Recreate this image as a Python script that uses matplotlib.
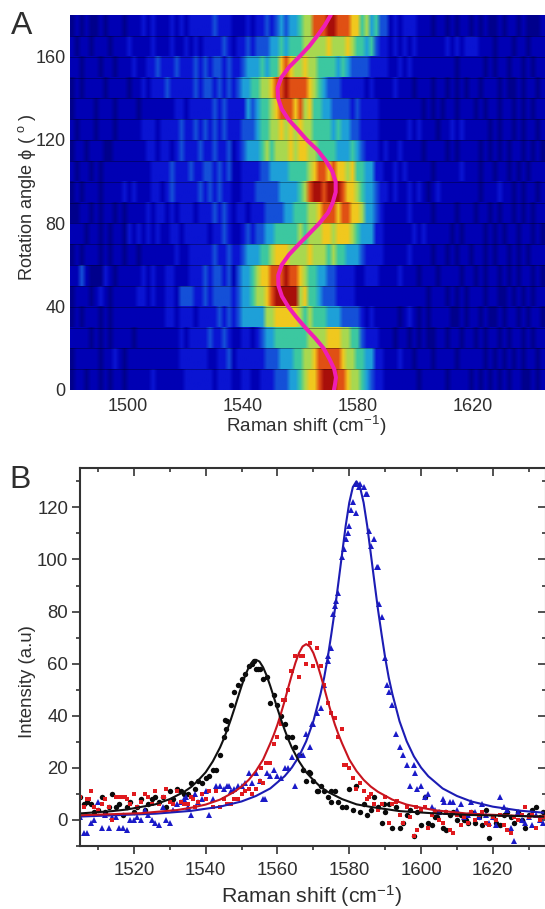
import numpy as np
import matplotlib
matplotlib.use("Agg")
import matplotlib.pyplot as plt
from matplotlib.colors import ListedColormap
from matplotlib.ticker import MultipleLocator

plt.rcParams['font.family'] = ['Liberation Sans', 'DejaVu Sans']
plt.rcParams['mathtext.fontset'] = 'custom'
plt.rcParams['mathtext.rm'] = 'Liberation Sans'
plt.rcParams['mathtext.it'] = 'Liberation Sans:italic'
plt.rcParams['mathtext.default'] = 'regular'

# ---- Panel A data: intensity digits, one string per 10 degree row (top row first)
heat_left = [
    "0101001011101112121112121222223222", "1011011101112111121112112121222232",
    "1101110110111211223222322232323323", "0101111011110112122232222232332323",
    "0111101110111101111111221222223232", "1011101110111112221222232232323232",
    "0110111001111111221221232223223223", "1011010111111111122223222322332323",
    "0101110111121211122123222223232322", "0011010110101111212212122212223232",
    "1110110101102121212112212222212232", "0101110101101101111111211222223223",
    "1131000210111112121122111222323323", "0111012101111122121122133322323333",
    "0101110101111111111122122212222323", "1111010101111011111111121222232232",
    "0111110112101111111111122222211223", "0110110101101111121111112222221222",
]
heat_mid = [
    "1112122323434456688899888775645331", "1223233344545556666676667655453221",
    "2234445455787667665555454333322221", "2344556678898888765433322222121111",
    "2224345567888786755443333232222111", "2233345566767676655554544332222111",
    "1234445656667677665555444543222121", "1122223344445555678878776755442211",
    "1122233333444456899899987765443221", "1221222333344555667888788776443211",
    "1123233445555565666776777654442211", "2234445567776666766656554443222211",
    "1344567788898876554433222211222111", "2344566789999967554333222211111111",
    "2344444667777765655544433332121111", "1122123445555555666677766553222111",
    "1222222333444556678888876655442211", "1122112223334456778999887665432211",
]
heat_right = [
    "21222111011010110101001011010001", "21212111111212122211101110110111",
    "12121111111110111110101101101011", "21110111011010101101110100101101",
    "11111101010110111010110110101011", "11121211101121211111010110101101",
    "12111101111010111101010101101010", "21211111011111211101101101010111",
    "21121210121111111101112110101101", "11121111011110111011010110101011",
    "11112121111101011110101011011010", "11121111011010110110101101010111",
    "12111011101111011010110101011010", "11111110111010101110110010101011",
    "10121010111100101101001011010110", "01101010011011011010110101101011",
    "12110111011110111110101010101101", "11111011111011110101010101100101",
]
level_colors = ['#00008c', '#0000b4', '#0a14d2', '#1450d8', '#1ea0d8',
                '#3cc8a0', '#a8d850', '#f0c81e', '#e05014', '#a80f0a']

rotation_phi = [0, 3, 6, 10, 15, 20, 25, 30, 35, 40, 45, 50, 55, 60, 65, 70, 75, 80, 85, 90, 95, 100, 105, 110,
                115, 120, 125, 130, 135, 140, 145, 150, 155, 160, 165, 170, 175, 180]
rotation_shift = [1571.6, 1572, 1572.3, 1571.7, 1570, 1568, 1565, 1561.6, 1558.5, 1555.7, 1553.5, 1552.3, 1552.2,
                  1553.4, 1556, 1559.4, 1563, 1566.5, 1569.5, 1571.2, 1572.2, 1572.2, 1571, 1568.8, 1566, 1562.2,
                  1559, 1555.7, 1553.4, 1552.2, 1552, 1553.3, 1556, 1559.6, 1563, 1565.8, 1568.4, 1570.5]

# ---- Panel B data
shift_b = [1505, 1506, 1507, 1508, 1509, 1510, 1511, 1512, 1513, 1514, 1515, 1516, 1517, 1518, 1519, 1520, 1521,
           1522, 1523, 1524, 1525, 1526, 1527, 1528, 1529, 1530, 1531, 1532, 1533, 1534, 1535, 1536, 1537, 1538,
           1539, 1540, 1541, 1542, 1543, 1544, 1545, 1546, 1547, 1548, 1549, 1550, 1551, 1552, 1553, 1554, 1555,
           1556, 1557, 1558, 1559, 1560, 1561, 1562, 1563, 1564, 1565, 1566, 1567, 1568, 1569, 1570, 1571, 1572,
           1573, 1574, 1575, 1576, 1577, 1578, 1579, 1580, 1581, 1582, 1583, 1584, 1585, 1586, 1587, 1588, 1589,
           1590, 1591, 1592, 1593, 1594, 1595, 1596, 1597, 1598, 1599, 1600, 1601, 1602, 1603, 1604, 1605, 1606,
           1607, 1608, 1609, 1610, 1611, 1612, 1613, 1614, 1615, 1616, 1617, 1618, 1619, 1620, 1621, 1622, 1623,
           1624, 1625, 1626, 1627, 1628, 1629, 1630, 1631, 1632, 1633, 1634]
black_pts = [9, 6, 7, 6, 3, 4, 9, 3, 5, 10, 5, 6, 2, 5, 7, 3, 5, 8, 4, 6, 8, 9, 7, 9, 5, 11, 8, 12, 11, 10,
             10, 14, 12, 15, 14, 16, 17, 19, 19, 25, 32, 38, 44, 49, 52, 54, 56, 59, 60, 58,
             58, 54, 55, 45, 48, 44, 40, 37, 32, 32, 28, 25, 19, 15, 18, 15, 11, 13, 11, 9,
             11, 11, 7, 5, 5, 12, 4, 13, 3, 6, 2, 4, 9, 5, -1, 3, 6, -3, 5, -3,
             -1, 2, 4, -6, 3, -2, 9, -1, -2, 1, 3, -3, -4, 2, 3, 0, 2, 0, -1, 3,
             -1, 1, -2, 4, -7, 1, -1, -2, 2, 3, 1, -1, 3, 0, -3, 2, 4, 5, 1, 3]
red_pts = [9, 5, 8, 11, 5, 4, 6, 8, 5, 0, 9, 9, 9, 8, 6, 10, 5, 7, 10, 9, 6, 11, 6, 9, 12, 7, 6, 11, 7, 6,
           6, 9, 5, 7, 10, 8, 11, 5, 11, 5, 8, 6, 6, 8, 8, 10, 11, 12, 10, 12,
           15, 14, 22, 22, 29, 32, 37, 46, 50, 57, 63, 55, 63, 60, 68, 59, 66, 59, 52, 45,
           41, 39, 32, 35, 21, 20, 16, 12, 14, 11, 8, 10, 6, 4, 6, 9, -1, 6, 7, 2,
           -1, 5, 1, -6, -4, 4, 5, -3, 2, 3, 0, -1, 3, -4, -5, 2, -2, 1, -1, 3,
           0, 2, 3, -1, -2, 1, 0, 2, -2, -4, -5, 1, 0, 2, 5, 1, 2, -3, 0, 1]
blue_pts = [1, -5, -5, -1, 0, 7, -3, 2, -3, 1, 1, -3, -3, -4, 0, 0, 1, 0, 4, 2, 0, -1, -2, 5, 0, -1, 4, 6, 7, 8,
            5, 2, 10, 7, 8, 11, 2, 8, 13, 13, 12, 13, 11, 12, 13, 13, 14, 18, 14, 18,
            15, 8, 18, 17, 19, 17, 16, 20, 20, 24, 13, 25, 25, 33, 28, 37, 41, 43, 52, 61,
            66, 82, 87, 101, 108, 113, 122, 118, 129, 128, 125, 105, 108, 97, 78, 62, 49, 44, 33, 28,
            25, 21, 13, 21, 12, 13, 9, 10, 5, 4, 3, 8, 3, 7, 7, 4, 6, 1, 2, 7,
            3, 1, 6, 2, -1, 1, -2, 9, 5, 4, -3, -8, 3, 0, -1, 1, -2, 2, 0, -1]
black_extra_x = [1545.3, 1545.7, 1553.4, 1554.6, 1562.6, 1568.7, 1571.4, 1574.8, 1589.7, 1604.5, 1612.5]
black_extra_y = [38.5, 35, 61, 58, 32, 18.5, 11, 7, 6, 1.3, 0]
red_extra_x = [1555.5, 1556.7, 1561.5, 1560.6, 1563.8, 1566.6, 1578.6, 1507.5, 1517.4, 1585.5, 1593.4, 1598.5, 1528.4, 1536.5]
red_extra_y = [20, 22, 46, 38, 57, 63, 21, 8, 9, 9, 7.3, 5, 9, 8]
blue_extra_x = [1574.2, 1575.6, 1576.3, 1578.5, 1579.7, 1580.5, 1581.9, 1582.8, 1584.8, 1585.5, 1587.7, 1588.4,
                1590.6, 1556.4, 1569.5, 1598.4, 1606.5, 1534.4, 1546.5]
blue_extra_y = [63, 79, 84, 104, 110, 119, 129, 128, 125, 111, 97, 83, 52, 8, 37, 18, 7, 9, 13]

black_fit_x = [1505, 1510, 1514, 1518, 1522, 1526, 1530, 1534, 1536, 1538, 1540, 1542, 1544, 1545, 1546, 1547,
               1548, 1549, 1550, 1551, 1552, 1553, 1554, 1555, 1556, 1557, 1558, 1559, 1560, 1561, 1562, 1563,
               1564, 1566, 1568, 1570, 1572, 1574, 1578, 1582, 1586, 1594, 1604, 1614, 1634]
black_fit_y = [2.5, 3, 3.4, 4, 5, 6, 8, 10.8, 12.7, 15.3, 18.3, 22.5, 27.8, 31, 34.6, 38.5, 42.7, 47.1, 51.4,
               55.4, 58.6, 60.8, 61.5, 60.8, 58.6, 55.4, 51.4, 47.1, 42.7, 38.5, 34.6, 31, 27.8, 22.5, 18.3,
               15.3, 12.7, 10.8, 8, 6, 5, 3.4, 2.5, 1.9, 1.3]
red_fit_x = [1505, 1522, 1532, 1536, 1540, 1544, 1548, 1550, 1552, 1554, 1556, 1558, 1559, 1560, 1561, 1562, 1563,
             1564, 1565, 1566, 1567, 1568, 1569, 1570, 1571, 1572, 1573, 1574, 1575, 1576, 1577, 1578, 1580, 1582,
             1584, 1586, 1588, 1592, 1596, 1600, 1604, 1614, 1634]
red_fit_y = [1.8, 2.6, 3.8, 4.7, 5.9, 7.8, 10.8, 12.8, 15.4, 18.8, 23.2, 29.4, 32.8, 36.6, 41, 45.7, 50.8, 55.7,
             60.3, 64.1, 66.6, 67.5, 66.6, 64.1, 60.3, 55.7, 50.8, 45.7, 41, 36.6, 32.8, 29.4, 23.2, 18.8, 15.4,
             12.8, 10.8, 7.8, 5.9, 4.7, 3.7, 2.3, 1.2]
blue_fit_x = [1505, 1526, 1536, 1544, 1550, 1554, 1558, 1562, 1564, 1566, 1568, 1570, 1572, 1573, 1574, 1575, 1576,
              1577, 1578, 1579, 1580, 1581, 1582, 1583, 1584, 1585, 1586, 1587, 1588, 1589, 1590, 1591, 1592, 1594,
              1596, 1598, 1600, 1602, 1606, 1610, 1614, 1620, 1628, 1634]
blue_fit_y = [1.3, 2.4, 3.5, 5.1, 7.1, 9.2, 12.1, 16.8, 20.1, 24.4, 30.2, 37.9, 48.4, 54.6, 62.3, 71.3, 80.8, 91.4,
              102.2, 112.9, 121.8, 127.8, 130, 127.8, 121.8, 112.9, 102.2, 91.4, 80.8, 71.3, 62.3, 54.6, 48.4,
              37.9, 30.2, 24.4, 20.1, 16.8, 12.1, 9.2, 7.1, 5.1, 3.5, 2.8]

xticks_a = [1500, 1540, 1580, 1620]
yticks_a = [0, 40, 80, 120, 160]
xticks_b = [1520, 1540, 1560, 1580, 1600, 1620]
yticks_b = [0, 20, 40, 60, 80, 100, 120]

W, H = 545, 909
TXT = '#2e2e2e'
fig = plt.figure(figsize=(W / 100, H / 100), dpi=100, facecolor='white')


def box(left, top, right, bottom):
    return [left / W, 1 - bottom / H, (right - left) / W, (bottom - top) / H]


def put(x, y, s, **kw):
    fig.text(x / W, 1 - y / H, s, color=TXT, ha='center', va='center', **kw)


# Panel A
axa = fig.add_axes(box(70, 15, 545, 390))
rows = [l + m + r for l, m, r in zip(heat_left, heat_mid, heat_right)]
grid = np.array([[int(c) for c in row] for row in rows])
cmap = ListedColormap(level_colors)
for i, row in enumerate(grid):
    axa.imshow(row[None, :], cmap=cmap, vmin=-0.5, vmax=9.5, aspect='auto',
               interpolation='bilinear', interpolation_stage='rgba',
               extent=[1479.8, 1645, 170 - 10 * i, 180 - 10 * i])
for a in range(10, 180, 10):
    axa.axhline(a, color='black', lw=0.6, alpha=0.4)
axa.plot(rotation_shift, rotation_phi, color='#f01eb4', lw=2.9, solid_capstyle='round')
axa.set_xlim(1479.8, 1645)
axa.set_ylim(0, 180)
axa.set_xticks(xticks_a)
axa.set_yticks(yticks_a)
axa.tick_params(length=0, labelsize=13, labelcolor=TXT, pad=3)
axa.tick_params(axis='x', pad=6)
for s in axa.spines.values():
    s.set_visible(False)
put(306, 426, 'Raman shift (cm$^{-1}$)', fontsize=13.6)
put(27, 197, 'Rotation angle $\\phi$ ( $^{o}$ )', fontsize=13.1, rotation=90)
put(22, 26, 'A', fontsize=23)

# Panel B
axb = fig.add_axes(box(80, 468.3, 546, 846))
axb.plot(shift_b, black_pts, 'o', color='#0a0a0a', ms=3.9, mew=0)
axb.plot(black_extra_x, black_extra_y, 'o', color='#0a0a0a', ms=3.9, mew=0)
axb.plot(shift_b, blue_pts, '^', color='#1a1ac8', ms=4.6, mew=0)
axb.plot(blue_extra_x, blue_extra_y, '^', color='#1a1ac8', ms=4.6, mew=0)
axb.plot(shift_b, red_pts, 's', color='#e01a1e', ms=3.5, mew=0)
axb.plot(red_extra_x, red_extra_y, 's', color='#e01a1e', ms=3.5, mew=0)
axb.plot(blue_fit_x, blue_fit_y, color='#1c1cb4', lw=1.5)
axb.plot(red_fit_x, red_fit_y, color='#c8141e', lw=1.5)
axb.plot(black_fit_x, black_fit_y, color='#111111', lw=1.5)
axb.set_xlim(1505, 1634.8)
axb.set_ylim(-10, 135)
axb.set_xticks(xticks_b)
axb.set_yticks(yticks_b)
axb.xaxis.set_minor_locator(MultipleLocator(10))
axb.yaxis.set_minor_locator(MultipleLocator(10))
for s in axb.spines.values():
    s.set_linewidth(1.5)
    s.set_color('#333333')
axb.tick_params(which='major', length=5.5, width=1.2, color='#333333', labelsize=13.4, labelcolor=TXT, pad=3)
axb.tick_params(which='minor', length=3, width=1.2, color='#333333')
axb.tick_params(axis='x', pad=6)
top = axb.secondary_xaxis('top')
top.set_xticks(xticks_b)
top.xaxis.set_minor_locator(MultipleLocator(10))
top.tick_params(which='major', direction='in', length=5.5, width=1.2, color='#333333', labeltop=False)
top.tick_params(which='minor', direction='in', length=3, width=1.2, color='#333333')
top.spines['top'].set_visible(False)
right = axb.secondary_yaxis('right')
right.set_yticks(yticks_b)
right.yaxis.set_minor_locator(MultipleLocator(10))
right.tick_params(which='major', direction='in', length=5.5, width=1.2, color='#333333', labelright=False)
right.tick_params(which='minor', direction='in', length=3, width=1.2, color='#333333')
right.spines['right'].set_visible(False)
put(312, 896, 'Raman shift (cm$^{-1}$)', fontsize=15.4)
put(27, 682, 'Intensity (a.u)', fontsize=13.4, rotation=90)
put(20, 480, 'B', fontsize=23)

fig.savefig('out.png', dpi=100, facecolor='white')
